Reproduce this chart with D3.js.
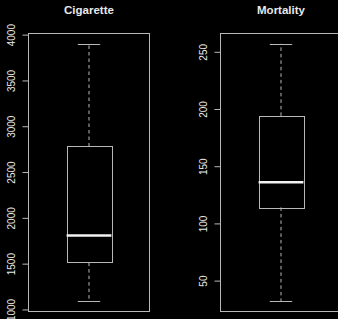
<!DOCTYPE html>
<html>
<head>
<meta charset="utf-8">
<script src="https://cdn.jsdelivr.net/npm/d3@7"></script>
<style>
  body { margin: 0; background: #000; }
  svg { display: block; }
</style>
</head>
<body>
<svg id="fig" width="338" height="319"></svg>
<script>
// five number summaries
const titles = ['Cigarette', 'Mortality'];
const cigarette = { min: 1090, q1: 1511, median: 1808, q3: 2779, max: 3900 };
const mortality = { min: 32, q1: 114, median: 136, q3: 194, max: 257 };
const cigTicks = [1000, 1500, 2000, 2500, 3000, 3500, 4000];
const morTicks = [50, 100, 150, 200, 250];

const svg = d3.select('#fig');
const lineColor = '#b8b8b8';
const textColor = '#e8e8e8';

const panels = [
    { title: titles[0], stats: cigarette, ticks: cigTicks, left: 28.5 },
    { title: titles[1], stats: mortality, ticks: morTicks, left: 220.5 }
];
const plotW = 121;
const plotTop = 33.5, plotBottom = 311.5;

const draw = (p) => {
    const s = p.stats;
    // R style 4% padding around data range
    const pad = (s.max - s.min) * 0.04;
    const yScale = d3.scaleLinear().domain([s.min - pad, s.max + pad]).range([plotBottom, plotTop]);
    const xScale = d3.scaleLinear().domain([0.46, 1.54]).range([p.left, p.left + plotW]);
    const g = svg.append('g');

    g.append('rect')
        .attr('x', p.left).attr('y', plotTop)
        .attr('width', plotW).attr('height', plotBottom - plotTop)
        .attr('fill', 'none').attr('stroke', lineColor);

    const yAxis = d3.axisLeft(yScale).tickValues(p.ticks).tickFormat(d3.format('d'))
        .tickSize(6).tickPadding(0);
    const axisG = g.append('g').attr('transform', `translate(${p.left},0)`).call(yAxis);
    axisG.select('.domain').remove();
    axisG.selectAll('.tick line').attr('stroke', lineColor);
    axisG.selectAll('.tick text')
        .attr('fill', textColor)
        .attr('font-family', 'Liberation Sans, Arial, sans-serif')
        .attr('font-size', 10)
        .attr('text-anchor', 'middle')
        .attr('x', 0).attr('dy', 0)
        .attr('transform', 'translate(-13.5,0) rotate(-90)');

    const cx = xScale(1);
    const bw = xScale(1.2) - xScale(1);
    const cw = xScale(1.1) - xScale(1);

    // whiskers
    g.append('line').attr('x1', cx).attr('x2', cx)
        .attr('y1', yScale(s.q3)).attr('y2', yScale(s.max))
        .attr('stroke', lineColor).attr('stroke-dasharray', '3.5,3');
    g.append('line').attr('x1', cx).attr('x2', cx)
        .attr('y1', yScale(s.q1)).attr('y2', yScale(s.min))
        .attr('stroke', lineColor).attr('stroke-dasharray', '3.5,3');
    // staples
    [s.min, s.max].forEach(v => {
        g.append('line').attr('x1', cx - cw).attr('x2', cx + cw)
            .attr('y1', Math.round(yScale(v)) + 0.5).attr('y2', Math.round(yScale(v)) + 0.5)
            .attr('stroke', lineColor);
    });
    // box
    g.append('rect')
        .attr('x', Math.round(cx - bw) + 0.5).attr('y', Math.round(yScale(s.q3)) + 0.5)
        .attr('width', Math.round(2 * bw)).attr('height', Math.round(yScale(s.q1) - yScale(s.q3)))
        .attr('fill', 'none').attr('stroke', lineColor);
    // median
    g.append('line').attr('x1', cx - bw).attr('x2', cx + bw)
        .attr('y1', yScale(s.median)).attr('y2', yScale(s.median))
        .attr('stroke', '#f2f2f2').attr('stroke-width', 2.5);

    g.append('text')
        .attr('x', xScale(1)).attr('y', 14)
        .attr('text-anchor', 'middle')
        .attr('font-family', 'Liberation Sans, Arial, sans-serif')
        .attr('font-weight', 'bold').attr('font-size', 11.5)
        .attr('fill', textColor)
        .text(p.title);
};

panels.forEach(draw);
</script>
</body>
</html>
